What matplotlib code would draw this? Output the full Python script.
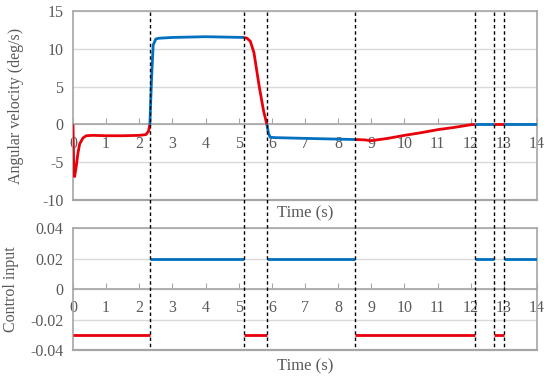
import matplotlib.pyplot as plt
from matplotlib.lines import Line2D
from matplotlib.transforms import blended_transform_factory

plt.rcParams['font.family'] = ['Liberation Serif', 'DejaVu Serif']

# switching instants (s)
switch_t = [2.32, 5.16, 5.85, 8.51, 12.13, 12.7, 13.0]

# angular velocity segments (deg/s), alternating red / blue
seg_t = [
    [0, 0.02, 0.05, 0.1, 0.15, 0.2, 0.3, 0.4, 0.6, 1.0, 1.5, 2.0, 2.2, 2.28, 2.32],
    [2.32, 2.37, 2.42, 2.5, 2.6, 3.0, 4.0, 5.16],
    [5.16, 5.25, 5.35, 5.46, 5.62, 5.75, 5.85],
    [5.85, 5.9, 5.95, 6.1, 7.0, 8.0, 8.51],
    [8.51, 8.8, 9.0, 9.5, 10.0, 10.5, 11.0, 11.5, 12.0, 12.13],
    [12.13, 12.7],
    [12.7, 13.0],
    [13.0, 14.0],
]
seg_v = [
    [0, -5, -6.9, -5.5, -3.8, -2.6, -1.8, -1.5, -1.45, -1.5, -1.5, -1.45, -1.35, -0.9, 0],
    [0, 6, 10.5, 11.3, 11.4, 11.5, 11.6, 11.5],
    [11.5, 11.4, 11.0, 9.5, 5.0, 1.8, 0],
    [0, -1.2, -1.7, -1.75, -1.85, -1.95, -2.0],
    [-2.0, -2.05, -2.15, -1.85, -1.45, -1.1, -0.7, -0.4, -0.05, 0],
    [0.05, 0.05],
    [0.05, 0.05],
    [0.05, 0.05],
]
# control input per segment
seg_u = [-0.03, 0.02, -0.03, 0.02, -0.03, 0.02, -0.03, 0.02]
seg_color = ['red', 'blue', 'red', 'blue', 'red', 'blue', 'red', 'blue']

colors = {'red': '#e8000b', 'blue': '#0070c0'}
gray_txt = '#595959'
frame = '#a6a6a6'
grid = '#d9d9d9'

fig = plt.figure(figsize=(5.5, 3.79), dpi=100)
ax1 = fig.add_axes([0.1327, 0.4723, 0.8436, 0.4987])
ax2 = fig.add_axes([0.1327, 0.0765, 0.8436, 0.3219])


def style(ax, ylim, yticks, ylabels):
    ax.set_xlim(0, 14)
    ax.set_ylim(*ylim)
    ax.set_yticks(yticks)
    ax.set_yticklabels(ylabels)
    ax.set_xticks(range(15))
    ax.yaxis.grid(True, color=grid, lw=1)
    ax.set_axisbelow(True)
    for s in ['left', 'right', 'top']:
        ax.spines[s].set_color(frame)
        ax.spines[s].set_linewidth(1.2)
    ax.spines['bottom'].set_position(('data', 0))
    ax.spines['bottom'].set_color(frame)
    ax.spines['bottom'].set_linewidth(1.2)
    ax.axhline(ylim[0], color=frame, lw=1.6, clip_on=False, zorder=1)
    ax.tick_params(axis='x', direction='in', length=4, color=frame,
                   labelcolor=gray_txt, labelsize=11.5, pad=8)
    ax.tick_params(axis='y', length=0, labelcolor=gray_txt, labelsize=11.5, pad=7)


style(ax1, (-10, 15), [-10, -5, 0, 5, 10, 15], ['-10', '-5', '0', '5', '10', '15'])
style(ax2, (-0.04, 0.04), [-0.04, -0.02, 0, 0.02, 0.04],
      ['-0.04', '-0.02', '0', '0.02', '0.04'])

for t, v, u, c in zip(seg_t, seg_v, seg_u, seg_color):
    ax1.plot(t, v, color=colors[c], lw=2, solid_capstyle='butt', zorder=3)
    ax2.plot([t[0], t[-1]], [u, u], color=colors[c], lw=2,
             solid_capstyle='butt', zorder=3)

ax1.set_ylabel('Angular velocity (deg/s)', color=gray_txt, fontsize=11.5)
ax2.set_ylabel('Control input', color=gray_txt, fontsize=11.5)
ax1.yaxis.set_label_coords(-0.106, 0.5)
ax2.yaxis.set_label_coords(-0.117, 0.5)
fig.text(0.555, 1 - 213 / 379, 'Time (s)', color=gray_txt, fontsize=12,
         ha='center', va='center')
fig.text(0.555, 1 - 366 / 379, 'Time (s)', color=gray_txt, fontsize=12,
         ha='center', va='center')

# dashed switching lines spanning both panels
tr = blended_transform_factory(ax1.transData, fig.transFigure)
for ts in switch_t:
    fig.add_artist(Line2D([ts, ts], [1 - 12 / 379, 1 - 349 / 379], transform=tr,
                          color='black', lw=1, ls=(0, (2.5, 2)), zorder=5))

fig.savefig('out.png', dpi=100)
